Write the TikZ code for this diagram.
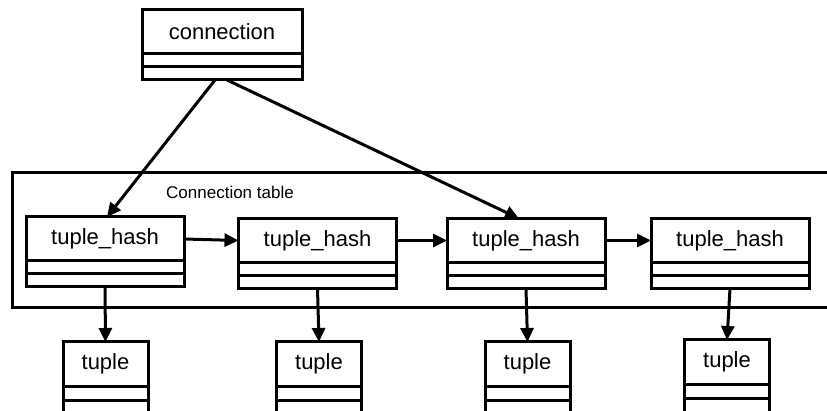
\documentclass[tikz,border=0pt]{standalone}
\usepackage{fontspec}
\setmainfont{Liberation Sans}
\usetikzlibrary{arrows.meta,calc}

\tikzset{
  head/.style={draw, line width=3pt, minimum width=#1, minimum height=44pt,
    inner sep=0pt, outer sep=0pt, font=\fontsize{22}{26}\selectfont},
  comp/.style={draw, line width=3pt, minimum width=#1, minimum height=13pt,
    inner sep=0pt, outer sep=0pt, anchor=north},
  tcomp/.style={comp=#1, minimum height=14pt},
  link/.style={line width=3pt, -{Triangle[length=14pt,width=13pt]}},
}

\begin{document}
\begin{tikzpicture}[x=1pt,y=-1pt]
\useasboundingbox (0,0) rectangle (827,411);
\clip (0,0) rectangle (827,411);

% connection record
\node[head=160pt] (conn) at (222,32) {connection};
\node[comp=160pt] (conna) at (conn.south) {};
\node[comp=160pt] (connb) at (conna.south) {};

% connection table frame
\draw[line width=3pt] (12,173) rectangle (860,308);
\node[font=\fontsize{17}{20}\selectfont] (label) at (230,192) {Connection table};

% tuple_hash records
\foreach \n/\x/\y in {1/105/239, 2/317.5/240.5, 3/526/240.5, 4/730/240.5}{
  \node[head=158pt] (h\n) at (\x,\y) {tuple\_hash};
  \node[comp=158pt] (h\n a) at (h\n.south) {};
  \node[comp=158pt] (h\n b) at (h\n a.south) {};
}

% tuple records
\foreach \n/\x/\y in {1/105.5/364, 2/319/364, 3/527.5/364, 4/727/362}{
  \node[head=85pt] (t\n) at (\x,\y) {tuple};
  \node[tcomp=85pt] (t\n a) at (t\n.south) {};
  \node[tcomp=85pt] (t\n b) at (t\n a.south) {};
}

% connectors
\draw[link] ([xshift=-7pt]connb.south) -- ([xshift=2pt]h1.north);
\draw[link] ([xshift=5pt]connb.south) -- ([xshift=-7pt]h3.north);
\draw[link] (h1.east) -- (h2.west);
\draw[link] (h2.east) -- (h3.west);
\draw[link] (h3.east) -- (h4.west);
\foreach \n in {1,2,3,4}{
  \draw[link] (h\n b.south) -- (t\n.north);
}
\end{tikzpicture}
\end{document}
